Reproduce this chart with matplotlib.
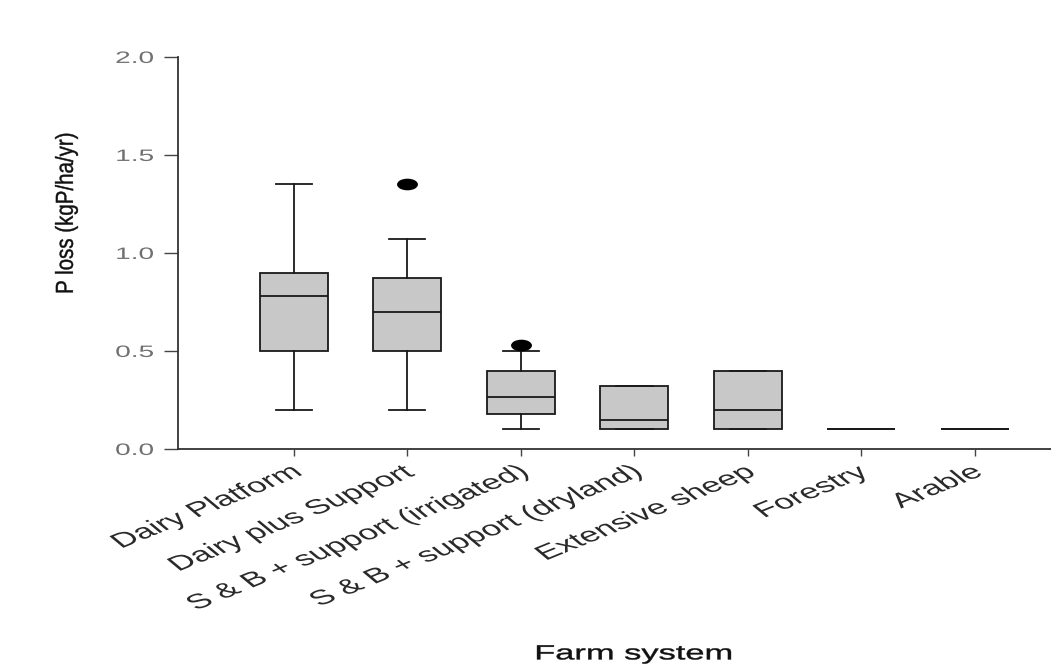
import matplotlib
matplotlib.use("Agg")
import matplotlib.pyplot as plt
from matplotlib.textpath import TextPath
from matplotlib.font_manager import FontProperties
from matplotlib.patches import PathPatch
from matplotlib.path import Path
from matplotlib.transforms import Affine2D, IdentityTransform

plt.rcParams['font.family'] = ['Liberation Sans', 'DejaVu Sans']

categories = ["Dairy Platform", "Dairy plus Support", "S & B + support (irrigated)",
              "S & B + support (dryland)", "Extensive sheep", "Forestry", "Arable"]
whisker_low = [0.20, 0.20, 0.10, 0.10, 0.10, 0.10, 0.10]
q1 = [0.50, 0.50, 0.18, 0.10, 0.10, 0.10, 0.10]
median = [0.78, 0.70, 0.265, 0.15, 0.20, 0.10, 0.10]
q3 = [0.90, 0.875, 0.40, 0.32, 0.40, 0.10, 0.10]
whisker_high = [1.35, 1.07, 0.50, 0.32, 0.40, 0.10, 0.10]
outliers = [[], [1.35], [0.53], [], [], [], []]
yticks = [0.0, 0.5, 1.0, 1.5, 2.0]

W, H = 1051, 664
FONT = FontProperties(family="Liberation Sans")


def wide_text(fig, x, y, s, size_px, angle=0.0, sx=1.0, ha="center",
              color="black", lw=0.0):
    """Draw text as a path, widened horizontally by sx, at display pixel (x, y).

    (x, y) is the anchor: the chosen horizontal edge of the ink and the
    middle of the cap height, after rotation by `angle` degrees."""
    path = TextPath((0, 0), s, size=size_px, prop=FONT)
    ext = path.get_extents()
    if ha == "right":
        ax0 = ext.x1
    elif ha == "left":
        ax0 = ext.x0
    else:
        ax0 = (ext.x0 + ext.x1) / 2
    ay0 = 0.36 * size_px
    tr = (Affine2D().translate(-ax0, -ay0).rotate_deg(angle)
          .scale(sx, 1.0).translate(x, y))
    patch = PathPatch(tr.transform_path(path), facecolor=color,
                      edgecolor=color, linewidth=lw,
                      transform=IdentityTransform())
    fig.add_artist(patch)
    return patch


stats = []
for i, name in enumerate(categories):
    stats.append(dict(label=name, whislo=whisker_low[i], q1=q1[i], med=median[i],
                      q3=q3[i], whishi=whisker_high[i], fliers=outliers[i]))

# flattened dot used for outliers
oval = Affine2D().scale(1.9, 1.0).transform_path(Path.unit_circle())

fig = plt.figure(figsize=(W / 100, H / 100), dpi=100)
ax = fig.add_axes([178 / W, 1 - 449 / H, 1 - 178 / W, (449 - 57) / H])

positions = list(range(len(categories)))
ax.bxp(stats, positions=positions, widths=0.6, patch_artist=True, showfliers=True,
       boxprops=dict(facecolor="#c8c8c8", edgecolor="#1a1a1a", linewidth=1.3),
       medianprops=dict(color="#1a1a1a", linewidth=1.3),
       whiskerprops=dict(color="#1a1a1a", linewidth=1.3),
       capprops=dict(color="#1a1a1a", linewidth=1.3),
       capwidths=0.32,
       flierprops=dict(marker=oval, markerfacecolor="black", markeredgecolor="black",
                       markersize=14))

ax.set_xlim(-1.02, 6.67)
ax.set_ylim(0, 2.0)
ax.set_yticks(yticks)
ax.set_xticks(positions)
ax.set_yticklabels([])
ax.set_xticklabels([])
ax.tick_params(axis="y", length=10, width=1, color="#444444")
ax.tick_params(axis="x", length=5, width=1, color="#444444")

for s in ("top", "right"):
    ax.spines[s].set_visible(False)
for s in ("left", "bottom"):
    ax.spines[s].set_color("#333333")
    ax.spines[s].set_linewidth(1.3)

# tick labels, widened horizontally
to_px = ax.transData
for v in yticks:
    _, py = to_px.transform((0, v))
    wide_text(fig, 153, py, f"{v:.1f}", 16.5, sx=1.7, ha="right", color="#707070")

for p, name in zip(positions, categories):
    px, _ = to_px.transform((p, 0))
    wide_text(fig, px + 1, H - 469, name, 20.5, angle=35, sx=1.72, ha="right",
              color="#2a2a2a")

# axis titles
wide_text(fig, 64, H - 213, "P loss (kgP/ha/yr)", 20.5, angle=90, sx=1.2,
          ha="center", color="#111111", lw=0.3)
wide_text(fig, 634, H - 652, "Farm system", 20.5, sx=1.68, ha="center",
          color="#111111", lw=0.3)

fig.savefig("out.png", dpi=100)
